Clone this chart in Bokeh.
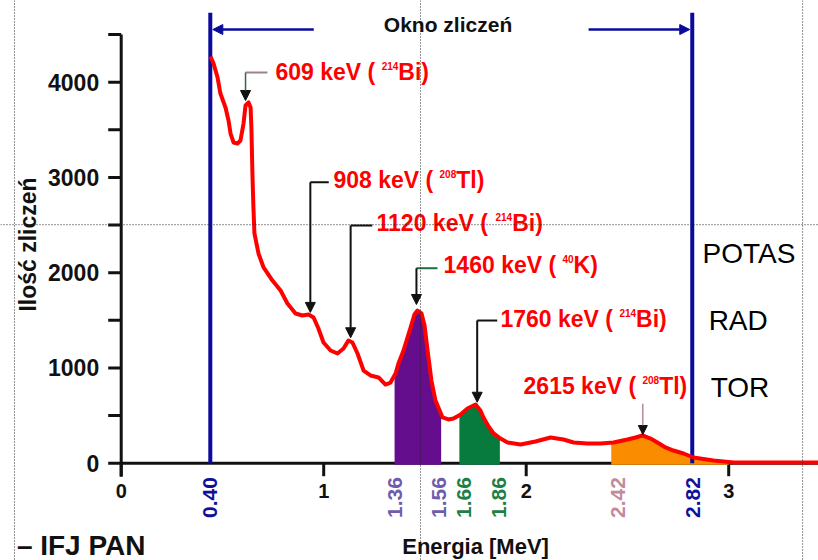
import numpy as np
from bokeh.plotting import figure
from bokeh.models import Arrow, NormalHead, Span, Range1d
from bokeh.core.properties import value
from bokeh.embed import file_html
from bokeh.resources import INLINE

# ---------------- data ----------------
energy = [0.441, 0.456, 0.476, 0.490, 0.515, 0.530, 0.540, 0.555, 0.574, 0.589,
          0.604, 0.614, 0.629, 0.639, 0.643, 0.648, 0.653, 0.658, 0.678, 0.703,
          0.747, 0.787, 0.821, 0.861, 0.895, 0.925, 0.950, 0.974, 0.999, 1.034,
          1.068, 1.098, 1.122, 1.142, 1.167, 1.197, 1.231, 1.271, 1.305, 1.330,
          1.355, 1.369, 1.394, 1.429, 1.448, 1.463, 1.483, 1.498, 1.513, 1.532,
          1.552, 1.587, 1.616, 1.641, 1.676, 1.710, 1.750, 1.774, 1.789, 1.814,
          1.839, 1.873, 1.908, 1.972, 2.046, 2.120, 2.184, 2.234, 2.303, 2.367,
          2.431, 2.500, 2.540, 2.574, 2.614, 2.648, 2.688, 2.727, 2.777, 2.826,
          2.925, 3.024, 3.443]
counts = [4270, 4196, 4049, 3881, 3734, 3598, 3461, 3367, 3356, 3388,
          3566, 3755, 3787, 3734, 3524, 3041, 2685, 2412, 2202, 2055,
          1918, 1813, 1677, 1572, 1551, 1561, 1530, 1414, 1267, 1183,
          1152, 1204, 1288, 1267, 1152, 973, 921, 900, 826, 847,
          942, 1047, 1183, 1425, 1561, 1603, 1572, 1446, 1183, 868,
          658, 480, 459, 469, 511, 574, 616, 553, 480, 385,
          312, 259, 217, 196, 228, 270, 249, 217, 207, 207,
          217, 249, 270, 291, 259, 217, 165, 133, 102, 60,
          28, 7, 7]

y_major = [0, 1000, 2000, 3000, 4000]
y_minor = [500, 1500, 2500, 3500, 4500]
x_major = [0, 1, 2, 3]
x_major_labels = ["0", "1", "2", "3"]

window_edges = [0.44, 2.82]          # "Okno zliczeń"
window_labels = ["0.40", "1.36", "1.56", "1.66", "1.86", "2.42", "2.82"]
window_label_colors = ["#10109c", "#6e5cae", "#6e5cae", "#1f8046", "#1f8046", "#c4899a", "#10109c"]

band_names = ["POTAS", "RAD", "TOR"]
band_lo = [1.35, 1.67, 2.42]
band_hi = [1.58, 1.87, 3.00]
band_colors = ["#650e8d", "#077a3e", "#fa8c00"]

peak_kev = ["609", "908", "1120", "1460", "1760", "2615"]
peak_mass = ["214", "208", "214", "40", "214", "208"]
peak_elem = ["Bi", "Tl", "Bi", "K", "Bi", "Tl"]
peak_tip_x = [0.614, 0.934, 1.133, 1.458, 1.758, 2.576]
peak_tip_y = [3808, 1583, 1317, 1666, 640, 301]

# ---------------- layout helpers ----------------
W, H = 818, 560
PXX = 202.5      # px per MeV
PXY = 0.09525    # px per count
OX, OY = 120.7, 462.7   # data origin in figure px
def dx(px): return px / PXX
def dy(px): return px / PXY

p = figure(width=W, height=H, output_backend="svg", toolbar_location=None,
           x_range=Range1d(-OX / PXX, (W - OX) / PXX),
           y_range=Range1d(-(H - OY) / PXY, OY / PXY),
           x_axis_location=None, y_axis_location=None,
           min_border=0, outline_line_color=None)
p.grid.visible = False
p.background_fill_color = "white"
p.border_fill_color = "white"

FONT = value("Liberation Sans")
BLACK = "#111111"
NAVY = "#0a0a9c"

# axes (drawn at data zero)
p.segment(x0=[0], y0=[-dy(13.5)], x1=[0], y1=[y_minor[-1]], line_width=3, line_color=BLACK)
p.segment(x0=[0], y0=[0], x1=[(W - OX) / PXX], y1=[0], line_width=3, line_color=BLACK)
yt = y_major + y_minor
p.segment(x0=[-dx(13)] * len(yt), y0=yt, x1=[0] * len(yt), y1=yt, line_width=3, line_color=BLACK)
p.segment(x0=x_major, y0=[0] * 4, x1=x_major, y1=[-dy(13)] * 4, line_width=3, line_color=BLACK)

p.text(x=[-dx(22)] * len(y_major), y=y_major, text=[str(v) for v in y_major],
       text_font=FONT, text_font_style="bold", text_font_size="23px",
       text_align="right", text_baseline="middle", text_color=BLACK)
p.text(x=x_major, y=[-dy(28)] * 4, text=x_major_labels,
       text_font=FONT, text_font_style="bold", text_font_size="20px",
       text_align="center", text_baseline="middle", text_color=BLACK)

label_pos = [0.44, 1.35, 1.57, 1.695, 1.866, 2.453, 2.824]
p.text(x=label_pos, y=[-dy(34.3)] * len(label_pos), text=window_labels, angle=np.pi / 2,
       text_font=FONT, text_font_style="bold", text_font_size="21px",
       text_align="center", text_baseline="middle", text_color=window_label_colors)

p.text(x=[-0.460], y=[2296], text=["Ilość zliczeń"], angle=np.pi / 2,
       text_font=FONT, text_font_style="bold", text_font_size="23px",
       text_align="center", text_baseline="middle", text_color=BLACK)
p.text(x=[1.750], y=[-dy(83)], text=["Energia [MeV]"],
       text_font=FONT, text_font_style="bold", text_font_size="22px",
       text_align="center", text_baseline="middle", text_color=BLACK)
p.text(x=[0.12], y=[-dy(82)], text=["– IFJ PAN"],
       text_font=FONT, text_font_style="bold", text_font_size="28px",
       text_align="right", text_baseline="middle", text_color=BLACK)

# energy bands
for lo, hi, col in zip(band_lo, band_hi, band_colors):
    xs = [lo] + [e for e in energy if lo < e < hi] + [hi]
    ys = np.interp(xs, energy, counts)
    p.varea(x=xs, y1=[-dy(1.6)] * len(xs), y2=ys, fill_color=col)

# counting window lines
p.segment(x0=window_edges, y0=[0, 0], x1=window_edges, y1=[4730, 4730],
          line_width=4, line_color=NAVY)
p.add_layout(Arrow(end=NormalHead(size=10, fill_color=NAVY, line_color=NAVY),
                   x_start=0.951, y_start=4553, x_end=window_edges[0] + dx(2.5), y_end=4553,
                   line_color=NAVY, line_width=2.5))
p.add_layout(Arrow(end=NormalHead(size=10, fill_color=NAVY, line_color=NAVY),
                   x_start=2.308, y_start=4553, x_end=window_edges[1] - dx(2.5), y_end=4553,
                   line_color=NAVY, line_width=2.5))
p.text(x=[1.614], y=[4606], text=["Okno zliczeń"],
       text_font=FONT, text_font_style="bold", text_font_size="21px",
       text_align="center", text_baseline="middle", text_color=BLACK)

# spectrum
p.line(energy, counts, line_color="#ff0000", line_width=4, line_join="round")

# peak annotations
lab_x = [0.762, 1.048, 1.261, 1.592, 1.873, 1.987]
lab_mid = [4102, 2973, 2522, 2076, 1509, 806]
corner_y = [4102, 2950, 2496, 2047, 1498, 624]
horiz_end = [0.722, 1.025, 1.240, 1.562, 1.857, None]
vert_col = ["#2f6b3f", BLACK, BLACK, BLACK, BLACK, "#a07080"]
horiz_col = ["#a08090", BLACK, BLACK, "#1f6f3f", BLACK, None]
vert_w = [1.5, 2, 2, 2, 2, 1.2]

AW = {' ': 278, '(': 333, ')': 333, 'k': 556, 'e': 556, 'V': 667, 'B': 722,
      'i': 278, 'T': 611, 'l': 278, 'K': 722}
def tw(s, size):
    return sum(AW.get(c, 556) for c in s) / 1000.0 * size

MAIN, SUP = 23, 10
pre_t, pre_x, sup_x, suf_x = [], [], [], []
for i in range(6):
    pre = f"{peak_kev[i]} keV ( "
    pre_t.append(pre)
    pre_x.append(lab_x[i])
    sup_x.append(lab_x[i] + dx(tw(pre, MAIN)))
    suf_x.append(lab_x[i] + dx(tw(pre, MAIN) + tw(peak_mass[i], SUP)))
    if horiz_end[i] is not None:
        p.segment(x0=[peak_tip_x[i]], y0=[corner_y[i]], x1=[horiz_end[i]], y1=[corner_y[i]],
                  line_color=horiz_col[i], line_width=2)
    p.add_layout(Arrow(end=NormalHead(size=10 if i < 5 else 9, fill_color=BLACK, line_color=BLACK),
                       x_start=peak_tip_x[i], y_start=corner_y[i],
                       x_end=peak_tip_x[i], y_end=peak_tip_y[i],
                       line_color=vert_col[i], line_width=vert_w[i]))

p.text(x=pre_x, y=lab_mid, text=pre_t, text_font=FONT, text_font_style="bold",
       text_font_size=f"{MAIN}px", text_align="left", text_baseline="middle", text_color="#ff0000")
p.text(x=sup_x, y=[b + dy(6) for b in lab_mid], text=peak_mass, text_font=FONT, text_font_style="bold",
       text_font_size=f"{SUP}px", text_align="left", text_baseline="middle", text_color="#ff0000")
p.text(x=suf_x, y=lab_mid, text=[e + ")" for e in peak_elem], text_font=FONT, text_font_style="bold",
       text_font_size=f"{MAIN}px", text_align="left", text_baseline="middle", text_color="#ff0000")

# band names on the right
p.text(x=[2.871, 2.901, 2.911], y=[2202, 1498, 795], text=band_names,
       text_font=FONT, text_font_size="28px", text_align="left", text_baseline="middle",
       text_color="black")

# dotted guide lines of the slide
for xv in [-0.527, 1.478, 3.365]:
    p.add_layout(Span(location=xv, dimension="height", line_dash="1 2", line_width=1, line_color="#222222"))
p.add_layout(Span(location=2504, dimension="width", line_dash="1 2", line_width=1, line_color="#222222"))

open("out.html", "w").write(file_html(p, INLINE))
